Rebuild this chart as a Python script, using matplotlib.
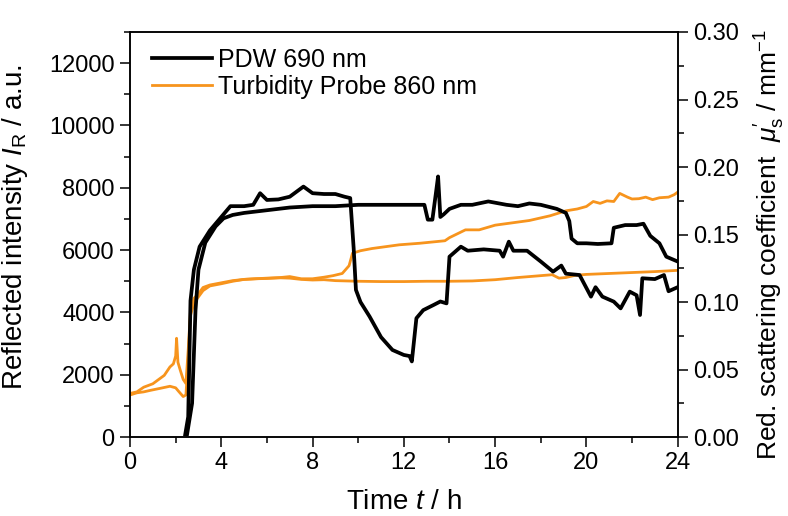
import matplotlib
matplotlib.use("Agg")
import matplotlib.pyplot as plt
from matplotlib.ticker import MultipleLocator

plt.rcParams['font.family'] = ['Liberation Sans', 'DejaVu Sans']
plt.rcParams['mathtext.fontset'] = 'custom'
plt.rcParams['mathtext.rm'] = 'Liberation Sans'
plt.rcParams['mathtext.it'] = 'Liberation Sans:italic'

# Turbidity probe (reflected intensity, left axis)
probe_a_t = [0, 0.3, 0.6, 1.0, 1.5, 1.75, 1.9, 2.0, 2.04, 2.1, 2.2, 2.33, 2.45, 2.55, 2.65, 2.8,
             3.0, 3.2, 3.5, 4.0, 4.5, 5.0, 5.5, 6.0, 6.6, 7.0, 7.5, 8.0, 8.5, 8.9, 9.3, 9.6, 9.75,
             10.1, 10.6, 11.2, 11.8, 12.7, 13.8, 14.0, 14.7, 15.3, 16.0, 16.9, 17.5, 18.4, 19.1,
             19.6, 20.0, 20.3, 20.6, 20.9, 21.2, 21.46, 21.8, 22.0, 22.3, 22.6, 22.9, 23.2, 23.6,
             23.85, 24.0]
probe_a_i = [1400, 1450, 1600, 1710, 1980, 2250, 2350, 2600, 3170, 2400, 2150, 1850, 1720, 2800,
             4050, 4450, 4600, 4800, 4880, 4950, 5020, 5060, 5080, 5100, 5120, 5150, 5080, 5080,
             5130, 5180, 5250, 5500, 5900, 5980, 6050, 6110, 6170, 6220, 6300, 6400, 6650, 6650,
             6800, 6890, 6950, 7100, 7260, 7320, 7400, 7560, 7500, 7580, 7560, 7820, 7700, 7640,
             7650, 7700, 7620, 7680, 7700, 7780, 7860]
probe_b_t = [0, 0.3, 0.6, 0.9, 1.3, 1.75, 2.0, 2.15, 2.33, 2.45, 2.55, 2.65, 2.8, 3.0, 3.2, 3.5,
             4.0, 4.5, 5.0, 5.5, 6.0, 6.6, 7.0, 7.5, 8.0, 8.5, 9.0, 10.0, 11.0, 12.0, 13.0, 14.0,
             15.0, 16.0, 17.0, 18.0, 18.5, 18.8, 19.1, 19.5, 20.0, 21.0, 22.0, 23.0, 24.0]
probe_b_i = [1350, 1420, 1450, 1500, 1560, 1630, 1580, 1450, 1300, 1350, 2500, 3900, 4300, 4500,
             4700, 4850, 4920, 5000, 5060, 5080, 5090, 5110, 5100, 5060, 5040, 5050, 5020, 5000,
             4990, 4990, 5000, 5000, 5010, 5050, 5120, 5180, 5210, 5100, 5120, 5190, 5220, 5250,
             5280, 5310, 5350]

# PDW (reduced scattering coefficient, right axis)
pdw_a_t = [2.42, 2.55, 2.65, 2.8, 3.05, 3.5, 3.95, 4.4, 5.0, 5.4, 5.7, 6.0, 6.5, 7.0, 7.6, 8.0,
           8.5, 9.0, 9.4, 9.65, 9.8, 9.9, 10.1, 10.5, 11.0, 11.5, 12.0, 12.25, 12.35, 12.55, 12.85,
           13.3, 13.6, 13.87, 14.0, 14.5, 14.8, 15.5, 16.2, 16.35, 16.6, 16.8, 17.4, 18.0, 18.54,
           18.9, 19.1, 19.7, 20.2, 20.4, 20.7, 21.2, 21.5, 21.9, 22.2, 22.35, 22.45, 23.0, 23.4,
           23.6, 24.0]
pdw_a_mu = [0.002, 0.015, 0.101, 0.124, 0.141, 0.153, 0.162, 0.171, 0.171, 0.172, 0.1806, 0.1756,
            0.176, 0.178, 0.1855, 0.1806, 0.180, 0.180, 0.178, 0.177, 0.140, 0.109, 0.100, 0.0892,
            0.0740, 0.0645, 0.0608, 0.0600, 0.056, 0.088, 0.094, 0.0978, 0.1004, 0.099, 0.1336,
            0.141, 0.138, 0.139, 0.138, 0.1336, 0.1447, 0.138, 0.138, 0.130, 0.1225, 0.127, 0.121,
            0.120, 0.104, 0.111, 0.104, 0.1003, 0.0953, 0.1077, 0.105, 0.0904, 0.1176, 0.117,
            0.120, 0.108, 0.111]
pdw_b_t = [2.5, 2.72, 2.87, 3.0, 3.3, 3.75, 4.1, 4.5, 5.0, 6.0, 7.0, 8.0, 9.0, 10.0, 11.0, 12.0,
           12.9, 13.05, 13.25, 13.4, 13.5, 13.6, 13.75, 14.0, 14.5, 15.0, 15.7, 16.5, 17.0, 17.5,
           18.0, 18.7, 19.1, 19.25, 19.35, 19.6, 20.0, 20.5, 21.1, 21.2, 21.7, 22.2, 22.5, 22.8,
           23.2, 23.5, 24.0]
pdw_b_mu = [0.002, 0.025, 0.094, 0.124, 0.144, 0.156, 0.162, 0.1645, 0.166, 0.168, 0.170, 0.171,
            0.171, 0.172, 0.172, 0.172, 0.172, 0.161, 0.161, 0.180, 0.193, 0.163, 0.165, 0.169,
            0.172, 0.172, 0.1745, 0.172, 0.171, 0.173, 0.172, 0.169, 0.166, 0.160, 0.147, 0.1435,
            0.1435, 0.143, 0.1435, 0.155, 0.157, 0.157, 0.158, 0.149, 0.1435, 0.1336, 0.130]

orange = '#f7941d'
fs = 17
lfs = 20

fig = plt.figure(figsize=(7.88, 5.16), dpi=100)
ax = fig.add_axes([0.165, 0.153, 0.695, 0.785])
ax2 = ax.twinx()

ax.plot(probe_a_t, probe_a_i, color=orange, lw=2.0)
ax.plot(probe_b_t, probe_b_i, color=orange, lw=2.0)
ax2.plot(pdw_a_t, pdw_a_mu, color='black', lw=2.7)
ax2.plot(pdw_b_t, pdw_b_mu, color='black', lw=2.7)

ax.set_xlim(0, 24)
ax.set_ylim(0, 13000)
ax2.set_ylim(0, 0.30)

ax.xaxis.set_major_locator(MultipleLocator(4))
ax.xaxis.set_minor_locator(MultipleLocator(2))
ax.yaxis.set_major_locator(MultipleLocator(2000))
ax.yaxis.set_minor_locator(MultipleLocator(1000))
ax2.yaxis.set_major_locator(MultipleLocator(0.05))
ax2.yaxis.set_minor_locator(MultipleLocator(0.025))
ax2.yaxis.set_major_formatter(plt.FormatStrFormatter('%.2f'))

for a in (ax, ax2):
    a.tick_params(which='major', direction='out', length=7, width=1.1, labelsize=fs, pad=4)
    a.tick_params(which='minor', direction='out', length=4, width=1.1)
    for s in a.spines.values():
        s.set_linewidth(1.1)

ax.set_xlabel(r'Time $\mathit{t}$ / h', fontsize=lfs)
ax.set_ylabel(r'Reflected intensity $\mathit{I}_\mathrm{R}$ / a.u.', fontsize=lfs)
ax2.set_ylabel(r"Red. scattering coefficient  $\mathit{\mu}_\mathrm{s}'$ / mm$^{-1}$",
               fontsize=19)
ax.xaxis.set_label_coords(0.5, -0.128)
ax.yaxis.set_label_coords(-0.183, 0.518)
ax2.yaxis.set_label_coords(1.137, 0.475)

handles = [plt.Line2D([], [], color='black', lw=2.7), plt.Line2D([], [], color=orange, lw=2.0)]
ax.legend(handles, ['PDW 690 nm', 'Turbidity Probe 860 nm'], loc='upper left',
          bbox_to_anchor=(0.022, 0.985), frameon=False, fontsize=18,
          handlelength=2.4, handletextpad=0.25, labelspacing=0.1, borderaxespad=0.0)

fig.savefig('out.png', dpi=100)
